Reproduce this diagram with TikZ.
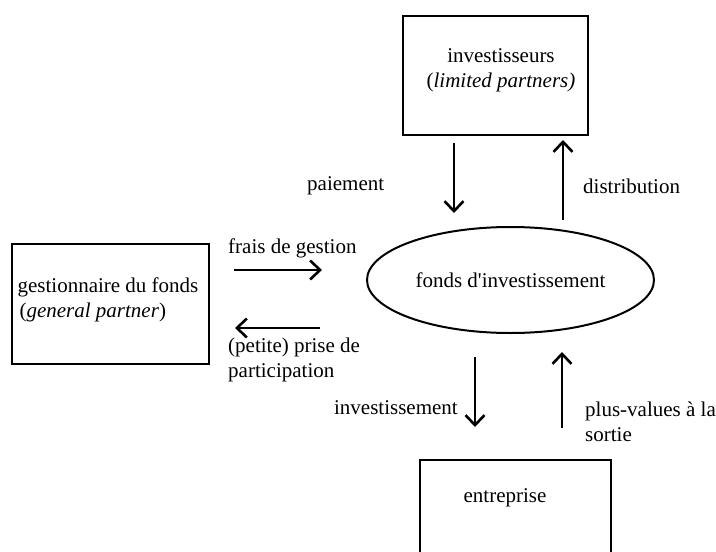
\documentclass[tikz,border=0pt]{standalone}
\usepackage{fontspec}
\setmainfont{Liberation Serif}
\usetikzlibrary{arrows.meta,shapes.geometric}
\begin{document}
\begin{tikzpicture}[x=1pt,y=-1pt,
  box/.style={draw,line width=2pt,rectangle,inner sep=0pt},
  lbl/.style={inner sep=0pt,font=\fontsize{21}{25}\selectfont},
  flow/.style={line width=2.8pt,-{Straight Barb[length=10pt,width=19pt,line width=2.6pt]}}]
\useasboundingbox (0,0) rectangle (716,552);
\clip (0,0) rectangle (716,552);
% boxes
\node[box,minimum width=185pt,minimum height=119pt] (inv) at (495.5,75.5) {};
\node[lbl,align=center] (invt) at (501,70) {investisseurs\\(\textit{limited partners)}};
\node[box,minimum width=197pt,minimum height=120pt] (gp) at (110.5,304) {};
\node[lbl,align=left] (gpt) at (108,300) {gestionnaire du fonds\\\hspace{2pt}(\textit{general partner})};
\node[draw,line width=2pt,ellipse,minimum width=287pt,minimum height=106pt,inner sep=0pt] (fund) at (510.5,280) {};
\node[lbl] (fundt) at (510.5,280) {fonds d\textquotesingle investissement};
\node[box,minimum width=191pt,minimum height=110pt] (ent) at (515.5,515) {};
\node[lbl] (entt) at (505,498) {entreprise};
% arrow end points
\coordinate (a1s) at (454,143); \coordinate (a1e) at (454,213);
\coordinate (a2s) at (563,220); \coordinate (a2e) at (563,140);
\coordinate (a3s) at (234,270); \coordinate (a3e) at (322,270);
\coordinate (a4s) at (320,328); \coordinate (a4e) at (235,328);
\coordinate (a5s) at (475,357); \coordinate (a5e) at (475,427);
\coordinate (a6s) at (562,428); \coordinate (a6e) at (562,352);
\draw[flow] (a1s) -- (a1e);
\draw[flow] (a2s) -- (a2e);
\draw[flow] (a3s) -- (a3e);
\draw[flow] (a4s) -- (a4e);
\draw[flow] (a5s) -- (a5e);
\draw[flow] (a6s) -- (a6e);
% labels
\node[lbl,anchor=west] (l1) at (307,186) {paiement};
\node[lbl,anchor=west] (l2) at (583,186) {distribution};
\node[lbl,anchor=west] (l3) at (228,248) {frais de gestion};
\node[lbl,anchor=west,align=left] (l4) at (228,360) {(petite) prise de\\participation};
\node[lbl,anchor=east] (l5) at (458,408) {investissement};
\node[lbl,anchor=west,align=left] (l6) at (585,422) {plus-values à la\\sortie};
\end{tikzpicture}
\end{document}
